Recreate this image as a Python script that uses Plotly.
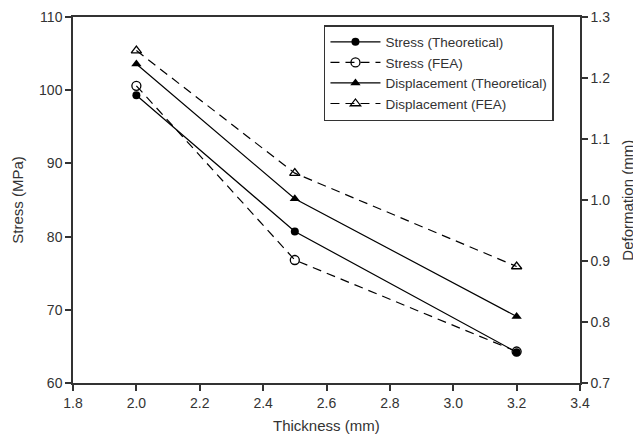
import plotly.graph_objects as go

thickness = [2.0, 2.5, 3.2]
stress_theo = [99.3, 80.7, 64.2]
stress_fea = [100.6, 76.8, 64.3]
disp_theo = [1.223, 1.002, 0.809]
disp_fea = [1.245, 1.044, 0.891]

DASH = "9px,6px"
fig = go.Figure()
fig.add_trace(go.Scatter(x=thickness, y=stress_theo, name="Stress (Theoretical)",
                         mode="lines+markers", line=dict(color="black", width=1.2),
                         marker=dict(symbol="circle", size=8, color="black")))
fig.add_trace(go.Scatter(x=thickness, y=stress_fea, name="Stress (FEA)",
                         mode="lines+markers", line=dict(color="black", width=1.2, dash=DASH),
                         marker=dict(symbol="circle-open", size=9, color="black", line=dict(width=1.3))))
fig.add_trace(go.Scatter(x=thickness, y=disp_theo, name="Displacement (Theoretical)", yaxis="y2",
                         mode="lines+markers", line=dict(color="black", width=1.2),
                         marker=dict(symbol="triangle-up", size=9, color="black")))
fig.add_trace(go.Scatter(x=thickness, y=disp_fea, name="Displacement (FEA)", yaxis="y2",
                         mode="lines+markers", line=dict(color="black", width=1.2, dash=DASH),
                         marker=dict(symbol="triangle-up-open", size=9, color="black", line=dict(width=1.3))))

axis_common = dict(showgrid=False, zeroline=False, showline=True, linecolor="#333", linewidth=1.5,
                   ticks="outside", ticklen=6, tickcolor="#333", tickwidth=1.5, automargin=False,
                   tickfont=dict(size=14, color="#333"))

# page body has an 8px default margin, so the figure is sized/margined to compensate
fig.update_layout(
    width=633, height=436,
    margin=dict(l=65, r=61, t=9, b=61),
    paper_bgcolor="white", plot_bgcolor="white",
    font=dict(family="Liberation Sans, Arial, sans-serif", color="#333"),
    xaxis=dict(range=[1.8, 3.4], dtick=0.2, tickformat=".1f", mirror=True, **axis_common),
    yaxis=dict(range=[60, 110], dtick=10, **axis_common),
    yaxis2=dict(range=[0.7, 1.3], dtick=0.1, tickformat=".1f", overlaying="y", side="right",
                **axis_common),
    legend=dict(x=0.495, y=0.978, xanchor="left", yanchor="top", bgcolor="white",
                bordercolor="#333", borderwidth=1.5, font=dict(size=13.5, color="#333"),
                tracegroupgap=0, itemwidth=50),
    showlegend=True,
    annotations=[
        dict(text="Thickness (mm)", x=0.5, y=-0.115, xref="paper", yref="paper",
             xanchor="center", yanchor="middle", showarrow=False, font=dict(size=15, color="#333")),
        dict(text="Stress (MPa)", x=-0.111, y=0.5, xref="paper", yref="paper", textangle=-90,
             xanchor="center", yanchor="middle", showarrow=False, font=dict(size=15, color="#333")),
        dict(text="Deformation (mm)", x=1.092, y=0.5, xref="paper", yref="paper", textangle=-90,
             xanchor="center", yanchor="middle", showarrow=False, font=dict(size=15, color="#333")),
    ],
)

fig.write_html("out.html")
